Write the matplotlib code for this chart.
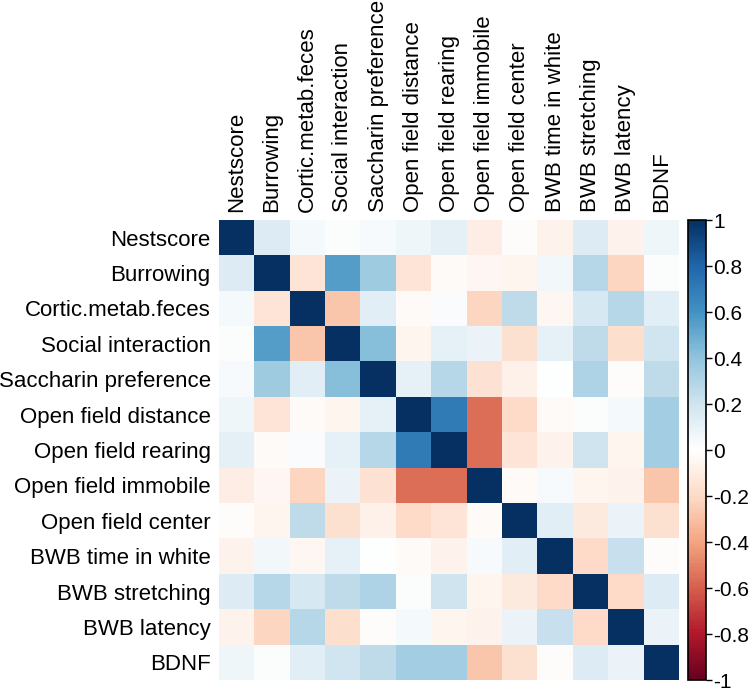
import matplotlib.pyplot as plt
import numpy as np
from matplotlib.colors import LinearSegmentedColormap

plt.rcParams['font.family'] = ['Liberation Sans', 'DejaVu Sans']

labels = ["Nestscore", "Burrowing", "Cortic.metab.feces", "Social interaction",
          "Saccharin preference", "Open field distance", "Open field rearing",
          "Open field immobile", "Open field center", "BWB time in white",
          "BWB stretching", "BWB latency", "BDNF"]

# upper triangle, row by row (values right of the diagonal)
upper = [
    [0.15, 0.04, 0.01, 0.03, 0.06, 0.11, -0.10, -0.02, -0.07, 0.15, -0.07, 0.06],
    [-0.15, 0.55, 0.35, -0.15, -0.03, -0.05, -0.06, 0.05, 0.28, -0.22, 0.01],
    [-0.28, 0.12, -0.03, 0.02, -0.22, 0.25, -0.05, 0.17, 0.28, 0.13],
    [0.42, -0.06, 0.10, 0.08, -0.17, 0.10, 0.25, -0.18, 0.19],
    [0.10, 0.28, -0.16, -0.08, 0.00, 0.30, -0.02, 0.25],
    [0.70, -0.55, -0.20, -0.03, 0.01, 0.04, 0.34],
    [-0.55, -0.15, -0.07, 0.20, -0.06, 0.34],
    [-0.03, 0.03, -0.06, -0.07, -0.28],
    [0.12, -0.12, 0.08, -0.17],
    [-0.20, 0.22, -0.02],
    [-0.20, 0.15],
    [0.08],
]

n = len(labels)
corr = np.eye(n)
for i, row in enumerate(upper):
    for k, v in enumerate(row):
        j = i + 1 + k
        corr[i, j] = v
        corr[j, i] = v

# corrplot's default RdBu palette
cmap = LinearSegmentedColormap.from_list("corrplot", [
    "#67001F", "#B2182B", "#D6604D", "#F4A582", "#FDDBC7", "#FFFFFF",
    "#D1E5F0", "#92C5DE", "#4393C3", "#2166AC", "#053061"], N=200)

f = plt.figure(figsize=(7.5, 6.96), dpi=100)
ax = f.add_axes([219 / 750, 16 / 696, 460 / 750, 460 / 696])
im = ax.imshow(corr, cmap=cmap, vmin=-1, vmax=1, aspect='auto',
               interpolation='nearest')

ax.set_xticks(range(n))
ax.set_yticks(range(n))
ax.set_xticklabels(labels, rotation=90, fontsize=16)
ax.set_yticklabels(labels, fontsize=16)
ax.xaxis.tick_top()
ax.tick_params(length=0, pad=6)
for s in ax.spines.values():
    s.set_visible(False)

cax = f.add_axes([688 / 750, 16 / 696, 18 / 750, 460 / 696])
cb = f.colorbar(im, cax=cax)
ticks = np.round(np.arange(-1, 1.01, 0.2), 1)
cb.set_ticks(ticks)
cb.set_ticklabels(["%g" % t if t != 0 else "0" for t in ticks])
cb.ax.tick_params(labelsize=15, length=4, width=1, pad=1)
cb.outline.set_linewidth(1.2)

plt.savefig("out.png", dpi=100)
plt.close(f)
